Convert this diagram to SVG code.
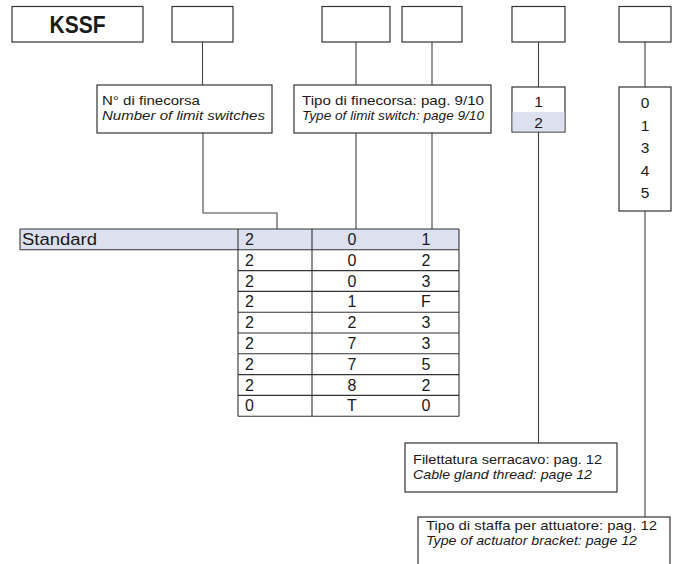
<svg xmlns="http://www.w3.org/2000/svg" width="678" height="564" viewBox="0 0 678 564">
<style>
.bx{fill:#fff;stroke:#333;stroke-width:1.2}
.hl{fill:#dde0ef}
.ln{fill:none;stroke:#444;stroke-width:1.1}
.tl{fill:none;stroke:#333;stroke-width:1.1}
text{font-family:"Liberation Sans",Arial,sans-serif;fill:#1a1a1a}
.lb{font-size:13px}
.it{font-size:13px;font-style:italic}
.td{font-size:16px}
.op{font-size:15.5px;text-anchor:middle}
.c{text-anchor:middle}
</style>
<rect width="678" height="564" fill="#fff"/>
<g id="connectors">
<path class="ln" d="M202.5 42V85"/>
<path class="ln" d="M203 133V213H277V229"/>
<path class="ln" d="M356 42V85M356 133V229"/>
<path class="ln" d="M432 42V85M432 133V229"/>
<path class="ln" d="M538.5 42V87M538.5 132V443"/>
<path class="ln" d="M645 42V87M645 211V517"/>
</g>
<g id="code-kssf">
<rect class="bx" x="12" y="6.5" width="131" height="35.5"/>
<text x="77.5" y="33" class="c" font-size="23" font-weight="bold" textLength="56" lengthAdjust="spacingAndGlyphs">KSSF</text>
</g>
<g id="code-1"><rect class="bx" x="172" y="6.5" width="61" height="35.5"/></g>
<g id="code-2"><rect class="bx" x="322" y="6.5" width="68" height="35.5"/></g>
<g id="code-3"><rect class="bx" x="402" y="6.5" width="60" height="35.5"/></g>
<g id="code-4"><rect class="bx" x="512" y="6.5" width="53" height="35.5"/></g>
<g id="code-5"><rect class="bx" x="619" y="6.5" width="52" height="35.5"/></g>
<g id="label-n-finecorsa">
<rect class="bx" x="97" y="85" width="175" height="48"/>
<text class="lb" x="102" y="104.5" textLength="98" lengthAdjust="spacingAndGlyphs">N° di finecorsa</text>
<text class="it" x="102" y="120" textLength="163" lengthAdjust="spacingAndGlyphs">Number of limit switches</text>
</g>
<g id="label-tipo-finecorsa">
<rect class="bx" x="294" y="85" width="197" height="48"/>
<text class="lb" x="302" y="104.5" textLength="182" lengthAdjust="spacingAndGlyphs">Tipo di finecorsa: pag. 9/10</text>
<text class="it" x="302" y="120" textLength="182" lengthAdjust="spacingAndGlyphs">Type of limit switch: page 9/10</text>
</g>
<g id="options-thread">
<rect class="bx" x="512" y="87" width="53" height="45"/>
<rect class="hl" x="512.6" y="112" width="51.8" height="19.4"/>
<text class="op" x="538.5" y="107">1</text>
<text class="op" x="538.5" y="128">2</text>
</g>
<g id="options-bracket">
<rect class="bx" x="619" y="87" width="52" height="124"/>
<text class="op" x="645" y="108">0</text>
<text class="op" x="645" y="130.5">1</text>
<text class="op" x="645" y="153">3</text>
<text class="op" x="645" y="175.5">4</text>
<text class="op" x="645" y="198">5</text>
</g>
<g id="table">
<rect class="hl" x="20" y="229" width="439" height="20.8"/>
<path class="tl" d="M20 229H459M20 249.8H459M238 270.6H459M238 291.4H459M238 312.2H459M238 333H459M238 353.8H459M238 374.6H459M238 395.4H459M238 416.2H459"/>
<path class="tl" d="M20 229V249.8M238 229V416.2M312 229V416.2M459 229V416.2"/>
<text class="td" x="22" y="245" textLength="75" lengthAdjust="spacingAndGlyphs">Standard</text>
<g class="td">
<text x="245" y="245">2</text><text x="352" y="245" class="c">0</text><text x="426" y="245" class="c">1</text>
<text x="245" y="265.8">2</text><text x="352" y="265.8" class="c">0</text><text x="426" y="265.8" class="c">2</text>
<text x="245" y="286.6">2</text><text x="352" y="286.6" class="c">0</text><text x="426" y="286.6" class="c">3</text>
<text x="245" y="307.4">2</text><text x="352" y="307.4" class="c">1</text><text x="426" y="307.4" class="c">F</text>
<text x="245" y="328.2">2</text><text x="352" y="328.2" class="c">2</text><text x="426" y="328.2" class="c">3</text>
<text x="245" y="349">2</text><text x="352" y="349" class="c">7</text><text x="426" y="349" class="c">3</text>
<text x="245" y="369.8">2</text><text x="352" y="369.8" class="c">7</text><text x="426" y="369.8" class="c">5</text>
<text x="245" y="390.6">2</text><text x="352" y="390.6" class="c">8</text><text x="426" y="390.6" class="c">2</text>
<text x="245" y="411.4">0</text><text x="352" y="411.4" class="c">T</text><text x="426" y="411.4" class="c">0</text>
</g>
</g>
<g id="label-filettatura">
<rect class="bx" x="405" y="443" width="212" height="49"/>
<text class="lb" x="413" y="463.5" textLength="189" lengthAdjust="spacingAndGlyphs">Filettatura serracavo: pag. 12</text>
<text class="it" x="413" y="478.5" textLength="179" lengthAdjust="spacingAndGlyphs">Cable gland thread: page 12</text>
</g>
<g id="label-staffa">
<rect class="bx" x="418" y="517" width="252" height="60"/>
<text class="lb" x="426" y="529.5" textLength="231" lengthAdjust="spacingAndGlyphs">Tipo di staffa per attuatore: pag. 12</text>
<text class="it" x="426" y="544.5" textLength="211" lengthAdjust="spacingAndGlyphs">Type of actuator bracket: page 12</text>
</g>
</svg>
